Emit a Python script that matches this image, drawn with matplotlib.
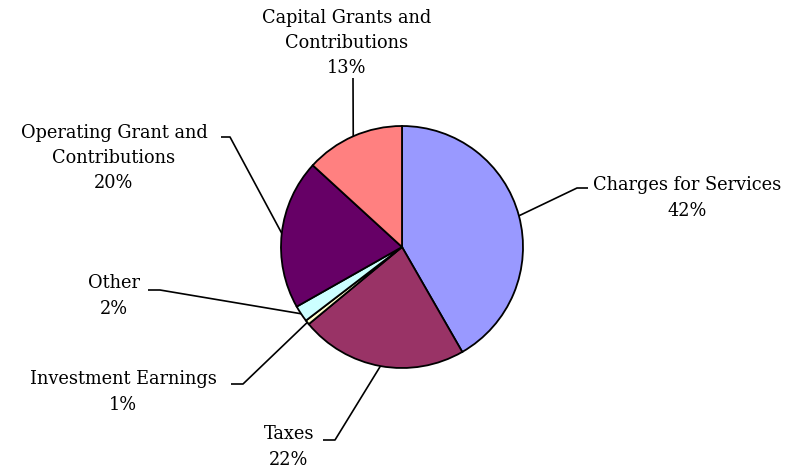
import numpy as np
import matplotlib.pyplot as plt

# revenue shares, clockwise from 12 o'clock
labels = ['Charges for Services', 'Taxes', 'Investment Earnings', 'Other',
          'Operating Grant and\nContributions', 'Capital Grants and\nContributions']
shares = [41.7, 22.3, 0.6, 2.2, 20.0, 13.2]
colors = ['#9999FF', '#993366', '#FFFFCC', '#CCFFFF', '#660066', '#FF8080']

# label layout in pixels: text centre, elbow, tip of horizontal stub
text_px = [(687, 198), (289, 447), (123, 392), (114, 296), (114, 158), (347, 43)]
elbow_px = [(577, 188), (335, 440), (243, 384), (160, 290), (230, 137), (353, 78)]
tip_px = [(588, 188), (323, 440), (231, 384), (148, 290), (221, 137), (353, 78)]

W, H = 789, 472
cx, cy, R = 402, 247, 121


def to_data(p):
    return ((p[0] - cx) / R, (cy - p[1]) / R)


fig = plt.figure(figsize=(W / 100, H / 100), dpi=100)
ax = fig.add_axes([0, 0, 1, 1])

wedges, _ = ax.pie(shares, colors=colors, startangle=90, counterclock=False,
                   radius=1.0, wedgeprops=dict(edgecolor='black', linewidth=1.3))

ax.set_xlim(-cx / R, (W - cx) / R)
ax.set_ylim((cy - H) / R, cy / R)
ax.set_aspect('equal')
ax.axis('off')

total = sum(shares)
for i, w in enumerate(wedges):
    mid = np.deg2rad((w.theta1 + w.theta2) / 2)
    anchor = (1.0 * np.cos(mid), 1.0 * np.sin(mid))
    ex, ey = to_data(elbow_px[i])
    tx, ty = to_data(tip_px[i])
    ax.plot([anchor[0], ex, tx], [anchor[1], ey, ty], color='black', lw=1.2,
            solid_capstyle='butt', zorder=0)
    pct = '%d%%' % round(shares[i] / total * 100)
    px, py = to_data(text_px[i])
    ax.text(px, py, labels[i] + '\n' + pct, ha='center', va='center',
            family='DejaVu Serif', fontsize=12.8, linespacing=1.52)

fig.savefig('out.png', dpi=100)
